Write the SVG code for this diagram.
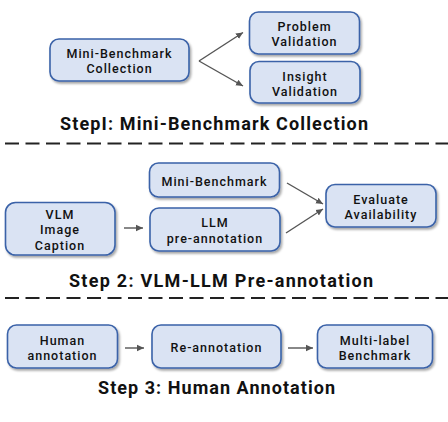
<svg xmlns="http://www.w3.org/2000/svg" width="448" height="422" viewBox="0 0 448 422">
<defs>
<marker id="ah" markerWidth="8" markerHeight="8" refX="7" refY="4" orient="auto" markerUnits="userSpaceOnUse">
<path d="M0,0.8 L7,4 L0,7.2 Z" fill="#555"/>
</marker>
<filter id="sh" x="-10%" y="-10%" width="130%" height="140%">
<feDropShadow dx="1.5" dy="2" stdDeviation="0.8" flood-color="#000" flood-opacity="0.35"/>
</filter>
</defs>
<style>
.box{fill:#dae3f3;stroke:#3a62a8;stroke-width:1.6;filter:url(#sh)}
.t{font-family:Roboto,"Liberation Sans",sans-serif;font-size:12.5px;font-weight:500;fill:#111;text-anchor:middle;letter-spacing:1px}
.h{font-family:Roboto,"Liberation Sans",sans-serif;font-size:18px;font-weight:700;fill:#111;text-anchor:middle}
.c{stroke:#555;stroke-width:1.4;fill:none;marker-end:url(#ah)}
.d{stroke:#222;stroke-width:2;stroke-dasharray:14 6.5}
</style>
<rect width="448" height="422" fill="#fff"/>

<g id="n1">
<rect class="box" x="50" y="39" width="139" height="42" rx="9"/>
<text class="t" x="119.5" y="57.5">Mini-Benchmark</text>
<text class="t" x="119.5" y="72.5">Collection</text>
</g>
<g id="n2">
<rect class="box" x="249.5" y="12" width="110" height="42" rx="9"/>
<text class="t" x="304.5" y="31">Problem</text>
<text class="t" x="304.5" y="46">Validation</text>
</g>
<g id="n3">
<rect class="box" x="250" y="61.5" width="110" height="41.5" rx="9"/>
<text class="t" x="305" y="80.5">Insight</text>
<text class="t" x="305" y="95.5">Validation</text>
</g>
<text class="h" x="60" y="130" text-anchor="start" style="text-anchor:start" textLength="308" lengthAdjust="spacing">StepI: Mini-Benchmark Collection</text>
<line class="d" x1="5" y1="143.5" x2="448" y2="143.5"/>

<g id="n4">
<rect class="box" x="149.5" y="163" width="130" height="34" rx="9"/>
<text class="t" x="214.5" y="186">Mini-Benchmark</text>
</g>
<g id="n5">
<rect class="box" x="5.5" y="202.5" width="109.5" height="52.5" rx="10"/>
<text class="t" x="60" y="218.5">VLM</text>
<text class="t" x="60" y="234">Image</text>
<text class="t" x="60" y="249.5">Caption</text>
</g>
<g id="n6">
<rect class="box" x="150" y="208" width="130" height="43" rx="9"/>
<text class="t" x="215" y="227">LLM</text>
<text class="t" x="215" y="242.5">pre-annotation</text>
</g>
<g id="n7">
<rect class="box" x="326" y="184.5" width="110" height="42.5" rx="9"/>
<text class="t" x="381" y="203.5">Evaluate</text>
<text class="t" x="381" y="219">Availability</text>
</g>
<text class="h" x="69" y="287" style="text-anchor:start" textLength="304" lengthAdjust="spacing">Step 2: VLM-LLM Pre-annotation</text>
<line class="d" x1="5" y1="298" x2="448" y2="298"/>

<g id="n8">
<rect class="box" x="7.5" y="325" width="110" height="43" rx="9"/>
<text class="t" x="62.5" y="345">Human</text>
<text class="t" x="62.5" y="360">annotation</text>
</g>
<g id="n9">
<rect class="box" x="152" y="325" width="129" height="43" rx="9"/>
<text class="t" x="216.5" y="352">Re-annotation</text>
</g>
<g id="n10">
<rect class="box" x="317.5" y="325" width="115" height="43" rx="9"/>
<text class="t" x="375" y="345">Multi-label</text>
<text class="t" x="375" y="360">Benchmark</text>
</g>
<text class="h" x="98" y="394" style="text-anchor:start" textLength="237" lengthAdjust="spacing">Step 3: Human Annotation</text>

<g id="connectors">
<line class="c" x1="199" y1="61" x2="243" y2="32.5"/>
<line class="c" x1="199" y1="61" x2="243" y2="86"/>
<line class="c" x1="124" y1="228" x2="143" y2="228"/>
<line class="c" x1="287" y1="183" x2="323" y2="204"/>
<line class="c" x1="286" y1="233" x2="323" y2="209"/>
<line class="c" x1="125" y1="348" x2="144" y2="348"/>
<line class="c" x1="288" y1="348" x2="313" y2="348"/>
</g>
</svg>
